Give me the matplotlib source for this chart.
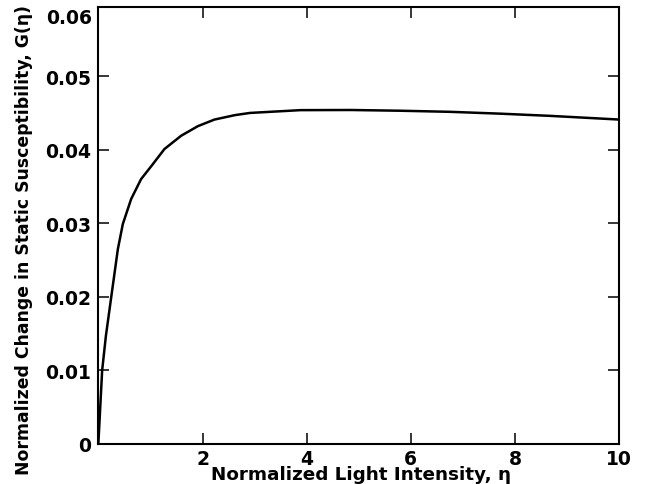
import matplotlib.pyplot as plt

# Valores
eta = [0, 0.073, 0.145, 0.246, 0.375, 0.47, 0.63, 0.82, 1.02, 1.27, 1.59, 1.91,
       2.23, 2.62, 2.91, 3.88, 4.84, 5.8, 6.76, 7.72, 8.68, 10.0]
G = [0, 0.010, 0.0147, 0.0199, 0.0265, 0.0299, 0.0333, 0.0360, 0.0378, 0.0401, 0.0419,
     0.0432, 0.0441, 0.0447, 0.0450, 0.04538, 0.0454, 0.0453, 0.04515, 0.0449, 0.0446,
     0.0441]

x_ticks = [2, 4, 6, 8, 10]
y_ticks = [0, 0.01, 0.02, 0.03, 0.04, 0.05]
y_labels = ['0', '0.01', '0.02', '0.03', '0.04', '0.05']

plt.rcParams['font.family'] = ['DejaVu Sans']
plt.rcParams['font.weight'] = 'bold'

fig = plt.figure(figsize=(6.47, 4.85), dpi=100)
ax = fig.add_axes([0.152, 0.0825, 0.805, 0.901])

ax.plot(eta, G, color='black', linewidth=1.8)

ax.set_xlim(0, 10)
ax.set_ylim(0, 0.0594)
ax.set_xticks(x_ticks)
ax.set_yticks(y_ticks)
ax.set_yticklabels(y_labels)

ax.tick_params(direction='in', length=8, width=1.1, top=True, right=True,
               labelsize=13.5, pad=5)
ax.tick_params(axis='x', pad=3.5)
for s in ax.spines.values():
    s.set_linewidth(1.5)

# etiqueta 0.06 por encima del límite superior
ax.text(-0.011, 0.058, '0.06', transform=ax.get_yaxis_transform(),
        ha='right', va='center', fontsize=13.5, fontweight='bold')

ax.set_xlabel('Normalized Light Intensity, η', fontsize=13.2, fontweight='bold')
ax.xaxis.set_label_coords(0.505, -0.048)
ax.set_ylabel('Normalized Change in Static Susceptibility, G(η)', fontsize=12.4,
              fontweight='bold')
ax.yaxis.set_label_coords(-0.126, 0.469)

plt.savefig('out.png', dpi=100)
